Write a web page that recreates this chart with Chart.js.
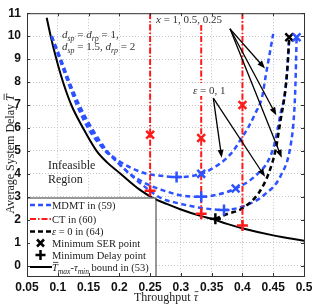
<!DOCTYPE html>
<html>
<head>
<meta charset="utf-8">
<script src="https://cdn.jsdelivr.net/npm/chart.js@4.4.0/dist/chart.umd.min.js"></script>
<style>
html, body { margin: 0; padding: 0; background: #fff; }
#wrap { width: 319px; height: 305px; }
</style>
</head>
<body>
<div id="wrap"><canvas id="c"></canvas></div>
<script>
// axes
const xTicks = [0.05, 0.1, 0.15, 0.2, 0.25, 0.3, 0.35, 0.4, 0.45, 0.5];
const xTickLabels = ['0.05', '0.1', '0.15', '0.2', '0.25', '0.3', '0.35', '0.4', '0.45', '0.5'];
const yTicks = [0, 1, 2, 3, 4, 5, 6, 7, 8, 9, 10, 11];

// bound curve (53)
const boundX = [0.082, 0.0885, 0.0977, 0.1085, 0.122, 0.141, 0.163, 0.18, 0.2, 0.2336, 0.2526, 0.277, 0.3, 0.333, 0.35, 0.375, 0.401, 0.45, 0.5];
const boundY = [10.8, 10.0, 9.0, 8.0, 7.0, 6.0, 5.0, 4.5, 4.05, 3.3, 2.98, 2.69, 2.45, 2.16, 2.04, 1.82, 1.62, 1.32, 1.08];

// MDMT curves (59), x = 1, 0.5, 0.25
const mdmtAX = [0.09, 0.103, 0.1166, 0.131, 0.149, 0.174, 0.2, 0.22, 0.245, 0.267, 0.293, 0.333, 0.352, 0.372, 0.385, 0.397, 0.41, 0.421, 0.432, 0.438, 0.444, 0.45];
const mdmtAY = [10.0, 9.0, 8.0, 7.0, 6.0, 5.1, 4.55, 4.25, 4.0, 3.92, 3.86, 4.0, 4.25, 4.63, 5.0, 5.49, 6.05, 6.64, 7.36, 8.3, 9.2, 10.1];
const mdmtBX = [0.09, 0.104, 0.118, 0.133, 0.153, 0.177, 0.19, 0.215, 0.245, 0.267, 0.299, 0.333, 0.36, 0.389, 0.421, 0.443, 0.452, 0.457, 0.462, 0.469, 0.473, 0.476];
const mdmtBY = [10.0, 9.0, 8.0, 7.0, 6.0, 5.0, 4.7, 4.05, 3.55, 3.32, 3.07, 3.0, 3.1, 3.36, 3.91, 4.63, 5.3, 5.92, 6.64, 7.5, 8.6, 9.9];
const mdmtCX = [0.09, 0.105, 0.119, 0.135, 0.155, 0.18, 0.2, 0.225, 0.25, 0.267, 0.299, 0.332, 0.37, 0.405, 0.437, 0.462, 0.478, 0.484, 0.486, 0.488];
const mdmtCY = [10.0, 9.0, 8.0, 7.0, 6.0, 5.0, 4.42, 3.8, 3.26, 2.95, 2.7, 2.52, 2.43, 2.62, 3.12, 3.91, 5.2, 6.64, 7.8, 9.95];

// epsilon = 0 curve (64)
const epsX = [0.356, 0.372, 0.4, 0.427, 0.443, 0.454, 0.462, 0.469, 0.473, 0.476];
const epsY = [2.04, 2.22, 2.5, 3.19, 4.05, 5.06, 6.35, 7.5, 8.6, 9.95];

// CT (60)
const ctX = [0.25, 0.333, 0.4];
const ctTop = 11;
const ctSerY = [5.7, 5.56, 7.0];
const ctDelayY = [3.26, 2.26, 1.75];

// markers
const mdmtSerX = [0.333, 0.389, 0.488];
const mdmtSerY = [4.0, 3.36, 9.95];
const mdmtDelayX = [0.293, 0.333, 0.37];
const mdmtDelayY = [3.86, 3.0, 2.43];
const epsSerX = [0.476];
const epsSerY = [9.95];
const epsDelayX = [0.356];
const epsDelayY = [2.04];

// annotation arrows
const xArrowFrom = [0.3798, 10.32];
const xArrowToX = [0.4367, 0.455, 0.4638];
const xArrowToY = [8.59, 6.55, 4.70];
const epsArrowFrom = [0.3527, 7.30];
const epsArrowToX = [0.3663, 0.4367];
const epsArrowToY = [4.70, 3.87];

const BLUE = '#2d52ff';
const RED = '#ff1a1a';
const SERIF = '"Liberation Serif", "DejaVu Serif", serif';

function pts(xs, ys) {
  return xs.map((x, i) => ({ x: x, y: ys[i] }));
}

function curve(data, color, dash, width) {
  return {
    data: data, showLine: true, borderColor: color, borderWidth: width,
    borderDash: dash, pointRadius: 0, fill: false, cubicInterpolationMode: 'monotone'
  };
}

function marks(data, color, style) {
  return {
    data: data, showLine: false, pointStyle: style, pointRadius: 5.5,
    pointBorderWidth: 2.5, pointBorderColor: color, pointBackgroundColor: color
  };
}

const datasets = [
  marks(pts(mdmtSerX, mdmtSerY), BLUE, 'crossRot'),
  marks(pts(mdmtDelayX, mdmtDelayY), BLUE, 'cross'),
  marks(pts(ctX, ctSerY), RED, 'crossRot'),
  marks(pts(ctX, ctDelayY), RED, 'cross'),
  marks(pts(epsSerX, epsSerY), '#000', 'crossRot'),
  marks(pts(epsDelayX, epsDelayY), '#000', 'cross')
];
ctX.forEach((x, i) => {
  datasets.push(curve([{ x: x, y: ctTop }, { x: x, y: ctDelayY[i] }], RED, [6, 2, 1.5, 2], 2));
});
datasets.push(curve(pts(epsX, epsY), '#000', [5, 3.5], 2.5));
datasets.push(curve(pts(mdmtAX, mdmtAY), BLUE, [5, 3.5], 2.5));
datasets.push(curve(pts(mdmtBX, mdmtBY), BLUE, [5, 3.5], 2.5));
datasets.push(curve(pts(mdmtCX, mdmtCY), BLUE, [5, 3.5], 2.5));
datasets.push(curve(pts(boundX, boundY), '#000', [], 2));

// draws text pieces: [text, style] with style r = roman, i = italic, s = subscript, o = italic with overline
function rich(ctx, x, y, parts, size) {
  let cx = x;
  parts.forEach(p => {
    const sub = p[1] === 's';
    const it = p[1] !== 'r';
    const fs = sub ? size * 0.72 : size;
    ctx.font = (it ? 'italic ' : '') + fs + 'px ' + SERIF;
    const w = ctx.measureText(p[0]).width;
    ctx.fillText(p[0], cx, sub ? y + size * 0.28 : y);
    if (p[1] === 'o') {
      ctx.save();
      ctx.lineWidth = 0.8;
      ctx.strokeStyle = ctx.fillStyle;
      ctx.beginPath();
      ctx.moveTo(cx + 1, y - size * 0.78);
      ctx.lineTo(cx + w + 0.5, y - size * 0.78);
      ctx.stroke();
      ctx.restore();
    }
    cx += w;
  });
  return cx;
}

function richWidth(ctx, parts, size) {
  let w = 0;
  parts.forEach(p => {
    const sub = p[1] === 's';
    ctx.font = (p[1] !== 'r' ? 'italic ' : '') + (sub ? size * 0.72 : size) + 'px ' + SERIF;
    w += ctx.measureText(p[0]).width;
  });
  return w;
}

function arrow(ctx, x0, y0, x1, y1) {
  const a = Math.atan2(y1 - y0, x1 - x0), L = 8, W = 3;
  ctx.beginPath();
  ctx.moveTo(x0, y0);
  ctx.lineTo(x1 - L * 0.8 * Math.cos(a), y1 - L * 0.8 * Math.sin(a));
  ctx.stroke();
  ctx.beginPath();
  ctx.moveTo(x1, y1);
  ctx.lineTo(x1 - L * Math.cos(a) + W * Math.sin(a), y1 - L * Math.sin(a) - W * Math.cos(a));
  ctx.lineTo(x1 - L * Math.cos(a) - W * Math.sin(a), y1 - L * Math.sin(a) + W * Math.cos(a));
  ctx.closePath();
  ctx.fill();
}

const overlay = {
  id: 'overlay',
  afterDraw(chart) {
    const ctx = chart.ctx;
    const xs = chart.scales.x, ys = chart.scales.y;
    const area = chart.chartArea;
    const px = v => xs.getPixelForValue(v);
    const py = v => ys.getPixelForValue(v);
    ctx.save();
    ctx.textBaseline = 'alphabetic';

    // labels with white backing
    ctx.fillStyle = '#fff';
    ctx.fillRect(154, 12, 78, 13);
    ctx.fillRect(191, 83, 41, 13);
    ctx.fillStyle = '#333';
    rich(ctx, 156, 22.5, [['x', 'i'], [' = 1, 0.5, 0.25', 'r']], 11);
    rich(ctx, 193, 93.5, [['ε', 'i'], [' = 0, 1', 'r']], 11);
    rich(ctx, 62, 37.5, [['d', 'i'], ['sp', 's'], [' = ', 'r'], ['d', 'i'], ['rp', 's'], [' = 1,', 'r']], 11);
    rich(ctx, 62, 50, [['d', 'i'], ['sp', 's'], [' = 1.5, ', 'r'], ['d', 'i'], ['rp', 's'], [' = 2', 'r']], 11);
    ctx.fillStyle = '#222';
    rich(ctx, 48, 169, [['Infeasible', 'r']], 12);
    rich(ctx, 48, 183, [['Region', 'r']], 12);

    // arrows
    ctx.strokeStyle = '#000';
    ctx.fillStyle = '#000';
    ctx.lineWidth = 1.3;
    xArrowToX.forEach((x, i) => arrow(ctx, px(xArrowFrom[0]), py(xArrowFrom[1]), px(x), py(xArrowToY[i])));
    epsArrowToX.forEach((x, i) => arrow(ctx, px(epsArrowFrom[0]), py(epsArrowFrom[1]), px(x), py(epsArrowToY[i])));

    // legend
    const lx = area.left, lt = 197.5, lr = 155.5, lb = area.bottom;
    ctx.fillStyle = '#fff';
    ctx.fillRect(lx, lt, lr - lx, lb - lt);
    ctx.strokeStyle = '#333';
    ctx.lineWidth = 1;
    ctx.strokeRect(lx + 0.5, lt + 0.5, lr - lx, lb - lt);
    const rows = [205, 219, 231.5, 243, 255, 267];
    const seg = (y, color, dash, w) => {
      ctx.save();
      ctx.strokeStyle = color; ctx.lineWidth = w; ctx.setLineDash(dash);
      ctx.beginPath(); ctx.moveTo(30, y); ctx.lineTo(52, y); ctx.stroke();
      ctx.restore();
    };
    seg(rows[0], BLUE, [5, 3], 2.5);
    seg(rows[1], RED, [6, 2, 1.5, 2], 2);
    seg(rows[2], '#000', [5, 3], 2.5);
    seg(rows[5], '#000', [], 2);
    ctx.strokeStyle = '#000';
    ctx.lineWidth = 2.5;
    ctx.beginPath();
    ctx.moveTo(37, rows[3] - 3.5); ctx.lineTo(44, rows[3] + 3.5);
    ctx.moveTo(44, rows[3] - 3.5); ctx.lineTo(37, rows[3] + 3.5);
    ctx.moveTo(35.5, rows[4]); ctx.lineTo(45.5, rows[4]);
    ctx.moveTo(40.5, rows[4] - 5); ctx.lineTo(40.5, rows[4] + 5);
    ctx.stroke();
    ctx.fillStyle = '#222';
    const fs = 10.5, tx = 52, off = 3.6;
    rich(ctx, tx, rows[0] + off, [['MDMT in (59)', 'r']], fs);
    rich(ctx, tx, rows[1] + off, [['CT in (60)', 'r']], fs);
    rich(ctx, tx, rows[2] + off, [['ε', 'i'], [' = 0 in (64)', 'r']], fs);
    rich(ctx, tx, rows[3] + off, [['Minimum SER point', 'r']], fs);
    rich(ctx, tx, rows[4] + off, [['Minimum Delay point', 'r']], fs);
    rich(ctx, tx, rows[5] + off, [['T', 'o'], ['max', 's'], ['-', 'r'], ['τ', 'i'], ['min', 's'], [' bound in (53)', 'r']], fs);

    // axes box and inward ticks
    ctx.strokeStyle = '#333';
    ctx.lineWidth = 1;
    ctx.strokeRect(area.left + 0.5, area.top + 0.5, area.right - area.left, area.bottom - area.top);
    ctx.beginPath();
    xTicks.forEach(v => {
      const x = Math.round(px(v)) + 0.5;
      ctx.moveTo(x, area.bottom); ctx.lineTo(x, area.bottom - 3);
      ctx.moveTo(x, area.top); ctx.lineTo(x, area.top + 3);
    });
    yTicks.forEach(v => {
      const y = Math.round(py(v)) + 0.5;
      ctx.moveTo(area.left, y); ctx.lineTo(area.left + 3, y);
      ctx.moveTo(area.right, y); ctx.lineTo(area.right - 3, y);
    });
    ctx.stroke();

    // axis titles
    ctx.fillStyle = '#222';
    const xt = [['Throughput ', 'r'], ['τ', 'o']];
    rich(ctx, 166 - richWidth(ctx, xt, 12) / 2, 301, xt, 12);
    const yt = [['Average System Delay ', 'r'], ['T', 'o']];
    ctx.translate(13.5, 154);
    ctx.rotate(-Math.PI / 2);
    rich(ctx, -richWidth(ctx, yt, 12) / 2, 0, yt, 12);
    ctx.restore();
  }
};

const tickFont = { family: '"Liberation Sans", Arial, sans-serif', size: 12, weight: 'bold' };

new Chart(document.getElementById('c'), {
  type: 'scatter',
  data: { datasets: datasets },
  options: {
    responsive: true,
    maintainAspectRatio: false,
    animation: false,
    events: [],
    layout: { padding: { top: 11, right: 15, left: 0, bottom: 0 } },
    plugins: { legend: { display: false }, tooltip: { enabled: false } },
    scales: {
      x: {
        type: 'linear', min: 0.05, max: 0.5,
        afterBuildTicks: s => { s.ticks = xTicks.map(v => ({ value: v })); },
        afterFit: s => { s.height = 29; },
        grid: { color: '#c4c4c4', lineWidth: 1, drawTicks: false },
        border: { display: false, dash: [1, 2] },
        ticks: { padding: 4, color: '#111', font: tickFont, maxRotation: 0, autoSkip: false,
          callback: (v, i) => xTickLabels[i] }
      },
      y: {
        type: 'linear', min: -0.45, max: 11,
        afterBuildTicks: s => { s.ticks = yTicks.map(v => ({ value: v })); },
        afterFit: s => { s.width = 27; },
        grid: { color: '#c4c4c4', lineWidth: 1, drawTicks: false },
        border: { display: false, dash: [1, 2] },
        ticks: { padding: 6, color: '#111', font: tickFont, autoSkip: false,
          callback: (v, i) => String(yTicks[i]) }
      }
    }
  },
  plugins: [overlay]
});
</script>
</body>
</html>
